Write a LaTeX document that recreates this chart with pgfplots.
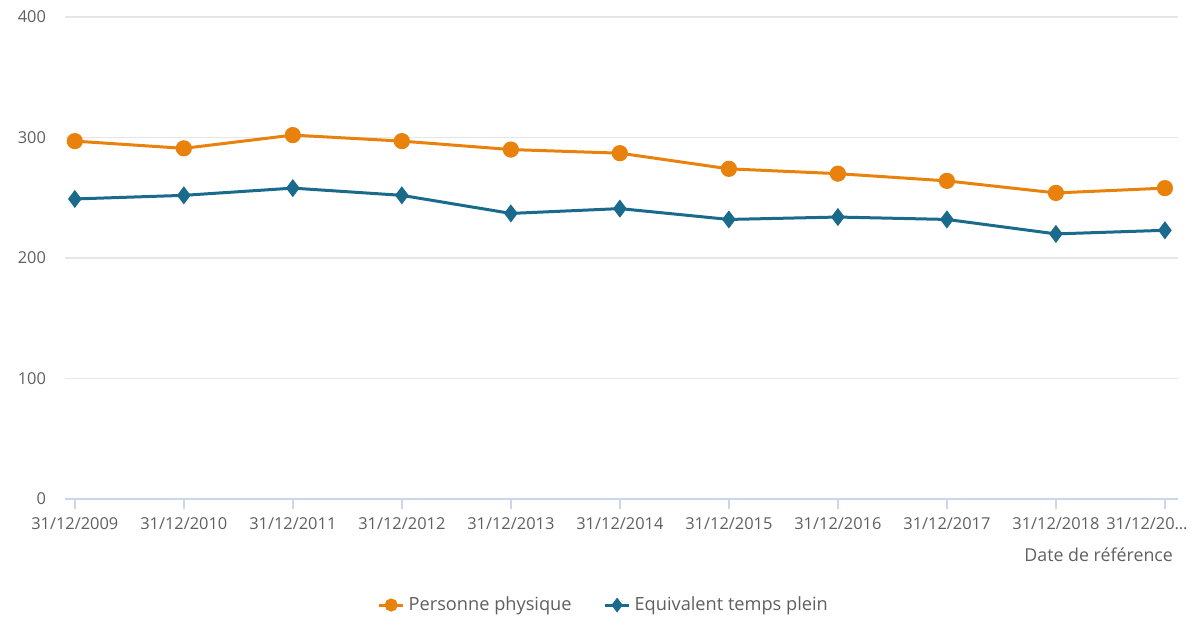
\documentclass[border=0pt]{standalone}
\usepackage{pgfplots}
\pgfplotsset{compat=1.18}
\usepackage{fontspec}
\setmainfont{Open Sans}
\definecolor{orng}{HTML}{E8820C}
\definecolor{blu}{HTML}{1A6A8C}
\definecolor{gridc}{HTML}{E6E6E6}
\definecolor{axc}{HTML}{CCD6EB}
\definecolor{txt}{HTML}{606060}
\newcommand{\lastlab}{\hspace*{-18pt}31/12/20…}
\begin{document}
\begin{tikzpicture}
\path[use as bounding box] (-32.5pt,-59.5pt) rectangle (565pt,249.5pt);
\begin{axis}[
  scale only axis,
  width=556.5pt, height=241pt,
  xmin=-0.09, xmax=10.12,
  ymin=0, ymax=400,
  ytick={0,100,200,300,400},
  xtick={0,1,2,3,4,5,6,7,8,9,10},
  xticklabels={31/12/2009,31/12/2010,31/12/2011,31/12/2012,31/12/2013,31/12/2014,31/12/2015,31/12/2016,31/12/2017,31/12/2018,\lastlab},
  ymajorgrids, grid style={gridc, line width=0.6pt},
  axis x line*=bottom, axis y line*=left,
  y axis line style={draw=none},
  x axis line style={axc, line width=0.7pt, -},
  xtick style={axc, line width=0.7pt},
  xtick align=outside,
  major tick length=5pt,
  ytick style={draw=none},
  tick label style={font=\fontsize{8.2}{9}\selectfont, text=txt},
  /pgf/number format/assume math mode=true,
  yticklabel style={anchor=east, xshift=-6pt},
  xticklabel style={yshift=-1pt},
  xlabel={Date de référence},
  xlabel style={at={(rel axis cs:1,0)}, anchor=north east, yshift=-21pt, xshift=1pt, font=\fontsize{8.9}{10}\selectfont, text=txt},
  legend style={at={(0.485,-0.22)}, anchor=center, draw=none, font=\fontsize{9.1}{10}\selectfont, text=txt, legend columns=2, /tikz/every even column/.append style={column sep=14pt}},
  legend image code/.code={\draw[#1] (0pt,0pt) -- (12pt,0pt); \draw[#1, mark repeat=1, mark size=2.5pt] plot coordinates {(6pt,0pt)};},
]
\addplot[orng, line width=1.5pt, mark=*, mark size=3.3pt, mark options={fill=orng, draw=orng}] coordinates {
(0,297) (1,291) (2,302) (3,297) (4,290) (5,287) (6,274) (7,270) (8,264) (9,254) (10,258)};
\addlegendentry{Personne physique}
\addplot[blu, line width=1.5pt, mark=diamond*, mark size=3.3pt, mark options={fill=blu, draw=blu}] coordinates {
(0,249) (1,252) (2,258) (3,252) (4,237) (5,241) (6,232) (7,234) (8,232) (9,220) (10,223)};
\addlegendentry{Equivalent temps plein}
\end{axis}
\end{tikzpicture}
\end{document}
